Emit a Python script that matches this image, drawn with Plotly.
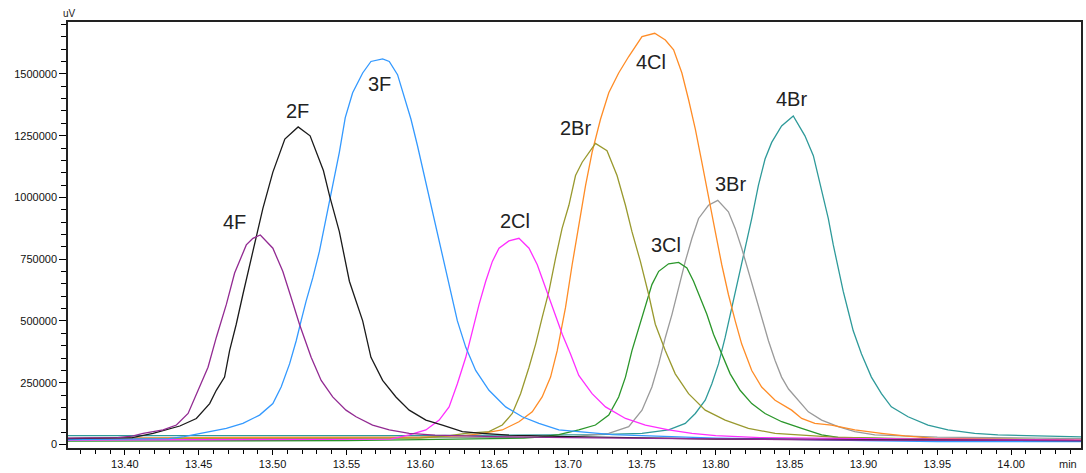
import plotly.graph_objects as go

# Retention time (min) and detector response (uV) for each halogenated compound trace
t_4F = [13.3615, 13.395, 13.405, 13.4124, 13.4259, 13.4349, 13.4428, 13.4495, 13.4563, 13.4619,
        13.4687, 13.4743, 13.4822, 13.4867, 13.4917, 13.5002, 13.5069, 13.5126, 13.5182, 13.5261,
        13.5329, 13.5407, 13.5497, 13.5565, 13.5677, 13.5790, 13.5925, 13.61, 13.65, 13.70,
        13.80, 13.90, 14.0473]
uv_4F = [26000, 28000, 34000, 45300, 59000, 79000, 125600, 219500, 313000, 433400,
         567000, 694000, 808000, 834700, 848000, 794600, 701000, 594000, 486800, 353000,
         259600, 192600, 139200, 112400, 79000, 59000, 45300, 38000, 32000, 28000,
         24000, 18000, 16000]

t_2F = [13.3615, 13.405, 13.4191, 13.4282, 13.4372, 13.4484, 13.4574, 13.4619, 13.4675, 13.4709,
        13.4754, 13.4799, 13.4844, 13.4890, 13.4934, 13.5002, 13.5083, 13.5173, 13.5254, 13.5344,
        13.5385, 13.5452, 13.5520, 13.5610, 13.5666, 13.5745, 13.5835, 13.5925, 13.6038, 13.6150,
        13.6285, 13.6420, 13.66, 13.70, 13.75, 13.80, 13.90, 14.0473]
uv_2F = [24000, 28000, 45300, 59000, 75000, 105500, 165700, 219500, 272900, 380000,
         486800, 607200, 727600, 848000, 955000, 1102400, 1236000, 1285400, 1249300, 1108800,
         1008500, 861600, 661000, 500400, 353000, 259600, 192600, 139200, 99100, 79000,
         52200, 45300, 38000, 32000, 26000, 22000, 20000, 16000]

t_3F = [13.3615, 13.43, 13.44, 13.4574, 13.4687, 13.4799, 13.4912, 13.5002, 13.5058, 13.5115,
        13.5160, 13.5193, 13.5227, 13.5272, 13.5317, 13.5362, 13.5407, 13.5452, 13.5492, 13.5542,
        13.5610, 13.5666, 13.5745, 13.5790, 13.5846, 13.5891, 13.5937, 13.5981, 13.6026, 13.6072,
        13.6116, 13.6161, 13.6207, 13.6251, 13.6308, 13.6375, 13.6465, 13.6578, 13.6690, 13.6803,
        13.6938, 13.7073, 13.73, 13.76, 13.80, 13.90, 13.95, 14.0473]
uv_3F = [20000, 24000, 32000, 52200, 65400, 85500, 119200, 165700, 232800, 326300,
         420200, 500400, 580700, 674200, 781300, 915000, 1048600, 1182600, 1323000, 1423400,
         1503700, 1550200, 1561000, 1550200, 1496800, 1409800, 1316300, 1209100, 1088700, 968300,
         848000, 727600, 607200, 500400, 393300, 299800, 219500, 152500, 112400, 85500,
         59000, 52200, 40000, 34000, 26000, 16000, 12000, 12000]

t_2Cl = [13.3615, 13.58, 13.5925, 13.6038, 13.6128, 13.6195, 13.6251, 13.6308, 13.6353, 13.6398,
         13.6443, 13.6488, 13.6533, 13.6600, 13.6668, 13.6736, 13.6792, 13.6848, 13.6904, 13.6961,
         13.7017, 13.7073, 13.7163, 13.7254, 13.7389, 13.7524, 13.7681, 13.7839, 13.80, 13.83,
         13.90, 14.0473]
uv_2Cl = [18000, 22000, 38900, 59000, 99100, 152500, 246000, 353100, 460300, 567000,
          661000, 741200, 794600, 823900, 834700, 794600, 727600, 634100, 540500, 446700,
          366400, 279700, 205900, 152500, 105500, 79000, 59000, 45300, 36000, 28000,
          24000, 18000]

t_2Br = [13.3615, 13.60, 13.62, 13.6308, 13.6465, 13.6555, 13.6623, 13.6679, 13.6736, 13.6781,
         13.6825, 13.6871, 13.6916, 13.6960, 13.7006, 13.7051, 13.7096, 13.7186, 13.7264, 13.7332,
         13.7389, 13.7433, 13.7490, 13.7546, 13.7591, 13.7659, 13.7726, 13.7816, 13.7929, 13.8064,
         13.8221, 13.8402, 13.8559, 13.88, 13.95, 14.00, 14.0473]
uv_2Br = [22000, 26000, 36000, 45300, 52200, 79000, 125600, 205900, 313000, 406500,
          513700, 620800, 754400, 874800, 968300, 1088700, 1142500, 1218700, 1189000, 1088700,
          968300, 861600, 741200, 607200, 486800, 380000, 286100, 205900, 139200, 99100,
          65400, 45300, 38900, 30000, 20000, 14000, 14000]

t_4Cl = [13.3615, 13.45, 13.60, 13.63, 13.6398, 13.6555, 13.6668, 13.6758, 13.6825, 13.6882,
         13.6927, 13.6983, 13.7028, 13.7073, 13.7119, 13.7163, 13.7220, 13.7276, 13.7343, 13.7411,
         13.7501, 13.7587, 13.7659, 13.7715, 13.7771, 13.7816, 13.7862, 13.7906, 13.7951, 13.7997,
         13.8041, 13.8086, 13.8132, 13.8176, 13.8244, 13.8311, 13.8402, 13.8514, 13.8582, 13.8671,
         13.8784, 13.8942, 13.9122, 13.9280, 13.9483, 14.0473]
uv_4Cl = [24000, 28000, 30000, 36000, 42900, 59000, 92300, 132400, 192600, 272900,
          380000, 553800, 727600, 888100, 1048600, 1182600, 1316300, 1423400, 1503700, 1570300,
          1650600, 1664200, 1637300, 1597200, 1503700, 1396500, 1276100, 1142500, 997800, 861600,
          727600, 607200, 500400, 406500, 299800, 232800, 179400, 139200, 105500, 85500,
          79000, 59000, 45300, 34900, 25300, 18000]

t_3Cl = [13.3615, 13.55, 13.67, 13.68, 13.6938, 13.7073, 13.7186, 13.7276, 13.7343, 13.7389,
         13.7433, 13.7479, 13.7524, 13.7568, 13.7614, 13.7681, 13.7749, 13.7805, 13.7850, 13.7895,
         13.7940, 13.7985, 13.8041, 13.8098, 13.8165, 13.8244, 13.8334, 13.8447, 13.8582, 13.8717,
         13.8829, 13.9145, 14.0473]
uv_3Cl = [14000, 16000, 26000, 30000, 40000, 59000, 79000, 119200, 192600, 272900,
          380000, 473500, 567000, 647300, 701000, 731600, 737200, 714300, 661000, 593900,
          526900, 446600, 366400, 286100, 219500, 165700, 125600, 92300, 65400, 38900,
          29300, 25300, 18000]

t_3Br = [13.3615, 13.70, 13.7276, 13.7411, 13.7501, 13.7568, 13.7614, 13.7659, 13.7704, 13.7749,
         13.7794, 13.7839, 13.7884, 13.7951, 13.8014, 13.8086, 13.8132, 13.8176, 13.8221, 13.8267,
         13.8311, 13.8357, 13.8402, 13.8446, 13.8493, 13.8560, 13.8627, 13.8717, 13.8829, 13.8942,
         13.9077, 13.95, 14.0473]
uv_3Br = [26000, 30000, 45300, 72200, 139200, 232800, 326300, 433400, 526900, 634100,
          741200, 834700, 915000, 968300, 988400, 941900, 874800, 794600, 701000, 607200,
          513700, 420200, 339900, 272900, 224700, 179400, 132400, 99100, 72200, 52200,
          38900, 30000, 24000]

t_4Br = [13.3615, 13.60, 13.72, 13.7501, 13.7681, 13.7794, 13.7862, 13.7929, 13.7974, 13.8019,
         13.8064, 13.8109, 13.8154, 13.8199, 13.8244, 13.8289, 13.8334, 13.8379, 13.8446, 13.8525,
         13.8604, 13.8661, 13.8694, 13.8728, 13.8762, 13.8796, 13.8829, 13.8863, 13.8897, 13.8931,
         13.8987, 13.9054, 13.9122, 13.9189, 13.9302, 13.9437, 13.9572, 13.9753, 13.9910, 14.0338,
         14.0473]
uv_4Br = [36000, 36000, 40000, 45300, 59000, 85500, 125600, 179400, 246000, 326300,
          433400, 553800, 674200, 781300, 915000, 1048600, 1155700, 1222800, 1289400, 1329500,
          1249300, 1169000, 1088700, 995200, 915000, 807800, 714300, 620800, 540500, 460300,
          366400, 272900, 205900, 152500, 112400, 79000, 59000, 45300, 38900, 32100,
          31000]

series_names = ["4Br", "3Br", "3Cl", "4Cl", "2Br", "2Cl", "3F", "2F", "4F"]
series_colors = ["#2e9a9a", "#9a9a9a", "#2a962a", "#ff8c26", "#99992e", "#ff2eff", "#3399ff", "#1a1a1a", "#922a92"]
series_t = [t_4Br, t_3Br, t_3Cl, t_4Cl, t_2Br, t_2Cl, t_3F, t_2F, t_4F]
series_uv = [uv_4Br, uv_3Br, uv_3Cl, uv_4Cl, uv_2Br, uv_2Cl, uv_3F, uv_2F, uv_4F]

# Peak label anchor positions (min, uV)
label_text = ["4F", "2F", "3F", "2Cl", "2Br", "4Cl", "3Cl", "3Br", "4Br"]
label_t = [13.4743, 13.5169, 13.5722, 13.6644, 13.7050, 13.7563, 13.7664, 13.8097, 13.8512]
label_uv = [900900, 1350400, 1460700, 904900, 1282200, 1549000, 808600, 1055400, 1396500]

fig = go.Figure()
for name, color, t, uv in zip(series_names, series_colors, series_t, series_uv):
    fig.add_trace(go.Scatter(x=t, y=uv, mode="lines", name=name,
                             line=dict(color=color, width=1.3)))

for txt, t, uv in zip(label_text, label_t, label_uv):
    fig.add_annotation(x=t, y=uv, text=txt, showarrow=False,
                       xanchor="center", yanchor="middle",
                       font=dict(family="Liberation Sans, Arial, sans-serif", size=20, color="#222222"))

fig.add_annotation(xref="paper", yref="paper", x=0.001, y=1.021, text="uV", showarrow=False,
                   xanchor="center", yanchor="middle",
                   font=dict(family="Liberation Sans, Arial, sans-serif", size=10, color="#222222"))
fig.add_annotation(xref="paper", yref="paper", x=0.987, y=-0.037, text="min", showarrow=False,
                   xanchor="center", yanchor="middle",
                   font=dict(family="Liberation Sans, Arial, sans-serif", size=11, color="#222222"))

tick_font = dict(family="Liberation Sans, Arial, sans-serif", size=11, color="#111111")

fig.update_layout(
    width=1086, height=473,
    margin=dict(l=68, r=3, t=22, b=22),
    paper_bgcolor="white", plot_bgcolor="white",
    showlegend=False,
    xaxis=dict(range=[13.3615, 14.0473], tickmode="linear", tick0=13.40, dtick=0.05,
               tickformat=".2f", ticks="outside", ticklen=5, tickwidth=1, tickcolor="black",
               minor=dict(dtick=0.01, tick0=13.40, ticks="outside", ticklen=4, tickcolor="black", showgrid=False),
               showline=True, linecolor="#222222", linewidth=1.5, mirror=True,
               showgrid=False, zeroline=False, tickfont=tick_font),
    yaxis=dict(range=[-14000, 1710000], tickmode="linear", tick0=0, dtick=250000,
               tickformat="d", ticks="outside", ticklen=7, tickwidth=1, tickcolor="black",
               minor=dict(dtick=50000, tick0=0, ticks="outside", ticklen=5, tickcolor="black", showgrid=False),
               showline=True, linecolor="#222222", linewidth=1.5, mirror=True,
               showgrid=False, zeroline=False, tickfont=tick_font),
)

fig.write_html("out.html")
